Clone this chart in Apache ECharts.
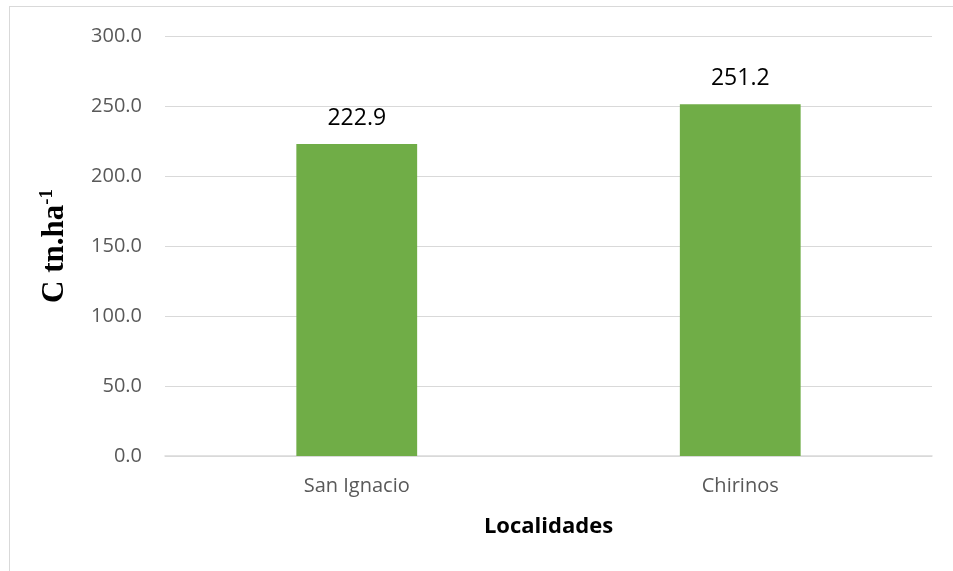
<!DOCTYPE html>
<html>
<head>
<meta charset="utf-8">
<script src="https://cdn.jsdelivr.net/npm/echarts@6/dist/echarts.min.js"></script>
<style>
  html, body { margin: 0; padding: 0; background: #fff; }
  #frame { position: absolute; left: 9px; top: 6px; width: 960px; height: 580px; border: 1.5px solid #d9d9d9; box-sizing: border-box; }
  #chart { position: absolute; left: 0; top: 0; width: 953px; height: 571px; }
</style>
</head>
<body>
<div id="frame"></div>
<div id="chart"></div>
<script>
// Carbon stock per locality
const localidades = ['San Ignacio', 'Chirinos'];
const carbono = [222.9, 251.2];
const yTicks = { min: 0, max: 300, interval: 50 };

const chart = echarts.init(document.getElementById('chart'));
chart.setOption({
  animation: false,
  grid: { left: 165, right: 21, top: 36, bottom: 115, containLabel: false },
  xAxis: {
    type: 'category',
    data: localidades,
    name: 'Localidades',
    nameLocation: 'middle',
    nameGap: 60,
    nameTextStyle: { fontFamily: 'Open Sans', fontWeight: 'bold', fontSize: 22, color: '#000' },
    axisLine: { lineStyle: { color: '#d9d9d9', width: 1.5 } },
    axisTick: { show: false },
    axisLabel: { fontFamily: 'Open Sans', fontSize: 20, color: '#595959', margin: 20 }
  },
  yAxis: {
    type: 'value',
    min: yTicks.min, max: yTicks.max, interval: yTicks.interval,
    name: '{b|C tn.ha}{s|-1}',
    nameLocation: 'middle',
    nameGap: 94,
    nameTextStyle: {
      rich: {
        b: { fontFamily: 'Liberation Serif', fontWeight: 'bold', fontSize: 31, color: '#000' },
        s: { fontFamily: 'Liberation Serif', fontWeight: 'bold', fontSize: 19, color: '#000', verticalAlign: 'top', padding: [0, 0, 14, 0] }
      }
    },
    axisLine: { show: false },
    axisTick: { show: false },
    splitLine: { lineStyle: { color: '#d9d9d9', width: 1.2 } },
    axisLabel: {
      fontFamily: 'Open Sans', fontSize: 20, color: '#595959', margin: 23,
      formatter: v => v.toFixed(1)
    }
  },
  series: [{
    type: 'bar',
    data: carbono,
    barWidth: '31.5%',
    itemStyle: { color: '#70ad47' },
    label: {
      show: true, position: 'top', distance: 14,
      fontFamily: 'Open Sans', fontSize: 23, color: '#000',
      formatter: p => p.value.toFixed(1)
    }
  }]
});
</script>
</body>
</html>
